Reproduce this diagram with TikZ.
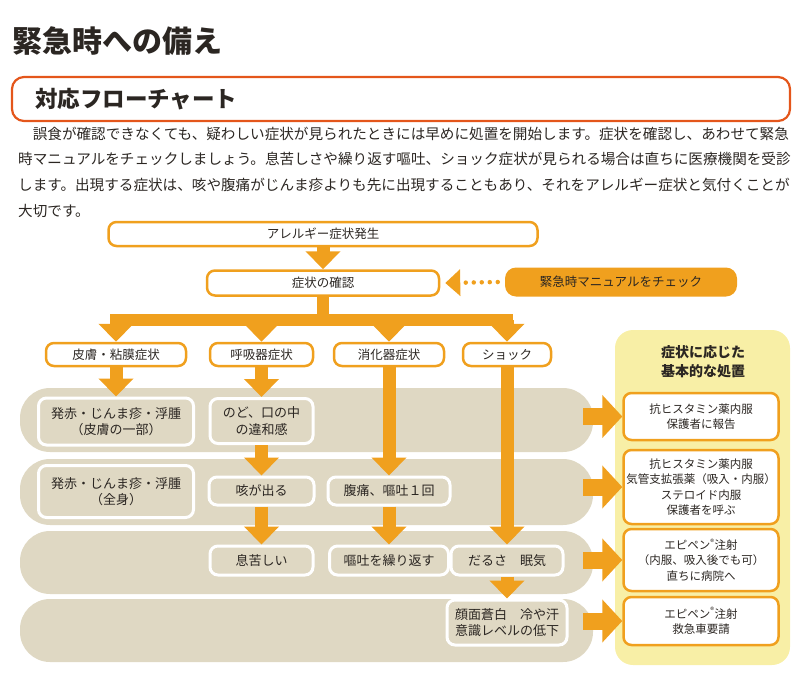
\documentclass[tikz,border=0pt]{standalone}
\usepackage{fontspec}
\setmainfont{Noto Sans CJK JP}
\usetikzlibrary{arrows.meta}

\definecolor{flowor}{HTML}{F0A01E}
\definecolor{heador}{HTML}{E4561B}
\definecolor{bandbg}{HTML}{DFD8C3}
\definecolor{panelbg}{HTML}{F8EFA6}
\definecolor{ink}{HTML}{2B2622}

\tikzset{
  flowbox/.style={draw=flowor, line width=2.5pt, fill=white, rounded corners=8pt, align=center, inner sep=1pt, text=ink, font=\fontsize{12.5}{16}\selectfont},
  symbox/.style={flowbox, draw=white, line width=3pt, fill=bandbg, font=\fontsize{13}{16.5}\selectfont},
  carebox/.style={flowbox, minimum width=155pt, font=\fontsize{11.5}{15.5}\selectfont},
  bandrow/.style={fill=bandbg, rounded corners=30pt, minimum width=573pt, inner sep=0pt},
  bigarrow/.style={draw=flowor, line width=13pt, -{Triangle[length=18pt,width=34pt]}},
  sidearrow/.style={draw=flowor, line width=17pt, -{Triangle[length=20pt,width=42pt]}},
  textline/.style={anchor=base west, inner sep=0pt, text=ink, font=\fontsize{14.6}{26}\selectfont}
}

\begin{document}
\begin{tikzpicture}[x=1pt, y=-1pt]
    \useasboundingbox (0,0) rectangle (800,680);

    \node[anchor=base west, inner sep=0pt, text=ink, font=\fontsize{30}{30}\selectfont\bfseries] (title) at (12,52) {緊急時への備え};
    \node[draw=heador, line width=2.2pt, rounded corners=12pt, minimum width=778pt, minimum height=44pt, inner sep=0pt] (headbox) at (401,99) {};
    \node[anchor=west, inner sep=0pt, text=ink, font=\fontsize{22.5}{22.5}\selectfont\bfseries] (head) at (35,99) {対応フローチャート};

    \node[textline] (line1) at (18,139) {　誤食が確認できなくても、疑わしい症状が見られたときには早めに処置を開始します。症状を確認し、あわせて緊急};
    \node[textline] (line2) at (18,164) {時マニュアルをチェックしましょう。息苦しさや繰り返す嘔吐、ショック症状が見られる場合は直ちに医療機関を受診};
    \node[textline] (line3) at (18,190) {します。出現する症状は、咳や腹痛がじんま疹よりも先に出現することもあり、それをアレルギー症状と気付くことが};
    \node[textline] (line4) at (18,216) {大切です。};

    % backgrounds
    \node[bandrow, minimum height=64pt] (band1) at (306.5,420) {};
    \node[bandrow, minimum height=66pt] (band2) at (306.5,492) {};
    \node[bandrow, minimum height=63pt] (band3) at (306.5,562.5) {};
    \node[bandrow, minimum height=63pt] (band4) at (306.5,630.5) {};
    \node[fill=panelbg, rounded corners=18pt, minimum width=175pt, minimum height=335pt, inner sep=0pt] (panel) at (702.5,497.5) {};

    \node[flowbox, minimum width=429pt, minimum height=24pt] (onset) at (323,234) {アレルギー症状発生};
    \node[flowbox, minimum width=232pt, minimum height=25pt] (check) at (323,283) {症状の確認};
    \node[flowbox, draw=none, fill=flowor, minimum width=232pt, minimum height=29pt, rounded corners=11pt] (manual) at (621,282) {緊急時マニュアルをチェック};

    \node[flowbox, minimum width=140pt, minimum height=23pt] (skin) at (116,354.5) {皮膚・粘膜症状};
    \node[flowbox, minimum width=103pt, minimum height=23pt] (resp) at (261.5,354.5) {呼吸器症状};
    \node[flowbox, minimum width=110pt, minimum height=23pt] (dig) at (389,354.5) {消化器症状};
    \node[flowbox, minimum width=88pt, minimum height=23pt] (shock) at (507,354.5) {ショック};

    \node[symbox, minimum width=155pt, minimum height=47pt] (part) at (116,421.5) {発赤・じんま疹・浮腫\\（皮膚の一部）};
    \node[symbox, minimum width=103pt, minimum height=45pt] (throat) at (261.5,421) {のど、口の中\\の違和感};
    \node[symbox, minimum width=155pt, minimum height=52pt] (whole) at (116,491.5) {発赤・じんま疹・浮腫\\（全身）};
    \node[symbox, minimum width=105pt, minimum height=28pt] (cough) at (261.5,491) {咳が出る};
    \node[symbox, minimum width=122pt, minimum height=28pt] (belly) at (389,491) {腹痛、嘔吐１回};
    \node[symbox, minimum width=103pt, minimum height=29pt] (breath) at (261.5,560.5) {息苦しい};
    \node[symbox, minimum width=119pt, minimum height=29pt] (vomit) at (389,560.5) {嘔吐を繰り返す};
    \node[symbox, minimum width=112pt, minimum height=29pt] (tired) at (507,560.5) {だるさ　眠気};
    \node[symbox, minimum width=120pt, minimum height=45pt] (pale) at (507,622.5) {顔面蒼白　冷や汗\\意識レベルの低下};

    \node[align=center, text=ink, font=\fontsize{14}{19}\selectfont\bfseries] (paneltitle) at (703,362) {症状に応じた\\基本的な処置};
    \node[carebox, minimum height=47pt] (care1) at (701,416.5) {抗ヒスタミン薬内服\\保護者に報告};
    \node[carebox, minimum height=74pt] (care2) at (701,487) {抗ヒスタミン薬内服\\気管支拡張薬（吸入・内服）\\ステロイド内服\\保護者を呼ぶ};
    \node[carebox, minimum height=62pt] (care3) at (701,560) {エピペン\textsuperscript{®}注射\\（内服、吸入後でも可）\\直ちに病院へ};
    \node[carebox, minimum height=48pt] (care4) at (701,621) {エピペン\textsuperscript{®}注射\\救急車要請};

    \draw[bigarrow] (onset) -- (check);
    \draw[flowor, line width=4.5pt, line cap=round, dash pattern=on 0pt off 8pt, -{Triangle[length=15pt,width=26pt]}] ([xshift=-6pt]manual.west) -- ([xshift=5pt]check.east);

    \coordinate (split) at (323,320);
    \draw[flowor, line width=12pt] (check.south) -- (split);
    \draw[flowor, line width=12pt, line cap=rect] (skin.north |- split) -- (shock.north |- split);
    \draw[bigarrow] (skin.north |- split) -- (skin.north);
    \draw[bigarrow] (resp.north |- split) -- (resp.north);
    \draw[bigarrow] (dig.north |- split) -- (dig.north);
    \draw[bigarrow] (shock.north |- split) -- (shock.north);

    \draw[bigarrow] (skin) -- (part);
    \draw[bigarrow] (resp) -- (throat);
    \draw[bigarrow] (throat) -- (cough);
    \draw[bigarrow] (cough) -- (breath);
    \draw[bigarrow] (dig) -- (belly);
    \draw[bigarrow] (belly) -- (vomit);
    \draw[bigarrow] (shock) -- (tired);
    \draw[bigarrow] (tired) -- (pale);

    \draw[sidearrow] (care1.west -| band1.east) ++(-10pt,0) -- (care1.west);
    \draw[sidearrow] (care2.west -| band2.east) ++(-10pt,0) -- (care2.west);
    \draw[sidearrow] (care3.west -| band3.east) ++(-10pt,0) -- (care3.west);
    \draw[sidearrow] (care4.west -| band4.east) ++(-10pt,0) -- (care4.west);
\end{tikzpicture}
\end{document}
